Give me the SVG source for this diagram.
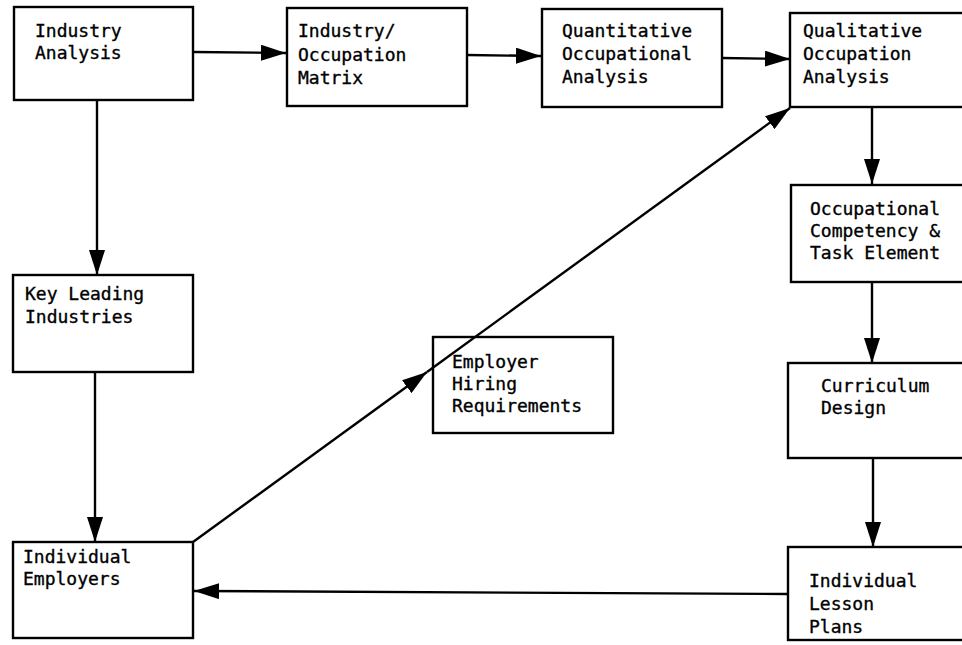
<svg xmlns="http://www.w3.org/2000/svg" width="962" height="645" viewBox="0 0 962 645">
<style>
.box{fill:none;stroke:#000;stroke-width:2.4}
.t{font-family:"DejaVu Sans Mono","Liberation Mono",monospace;font-size:18px;fill:#000;stroke:#000;stroke-width:0.35}
.c{fill:none;stroke:#000;stroke-width:2.4}
</style>
<defs>
<marker id="ah" viewBox="0 0 25 16" refX="25" refY="8" markerWidth="25" markerHeight="16" markerUnits="userSpaceOnUse" orient="auto">
<path d="M0,0 L25,8 L0,16 Z" fill="#000"/>
</marker>
</defs>
<rect width="962" height="645" fill="#fff"/>
<g id="connectors">
<line class="c" x1="194" y1="52" x2="286" y2="53" marker-end="url(#ah)"/>
<line class="c" x1="467" y1="55" x2="541" y2="56" marker-end="url(#ah)"/>
<line class="c" x1="722" y1="58" x2="790" y2="59" marker-end="url(#ah)"/>
<line class="c" x1="872" y1="107" x2="872" y2="184" marker-end="url(#ah)"/>
<line class="c" x1="872" y1="282" x2="872" y2="363" marker-end="url(#ah)"/>
<line class="c" x1="873" y1="458" x2="873" y2="547" marker-end="url(#ah)"/>
<line class="c" x1="788" y1="594" x2="194" y2="591" marker-end="url(#ah)"/>
<line class="c" x1="97" y1="100" x2="97" y2="275" marker-end="url(#ah)"/>
<line class="c" x1="95" y1="372" x2="95" y2="542" marker-end="url(#ah)"/>
<line class="c" x1="193" y1="542" x2="427" y2="372" marker-end="url(#ah)"/>
<line class="c" x1="427" y1="372" x2="790" y2="108" marker-end="url(#ah)"/>
</g>
<g id="industry-analysis">
<rect class="box" x="14" y="7" width="179" height="93"/>
<text class="t" x="35" y="37">Industry</text>
<text class="t" x="35" y="59">Analysis</text>
</g>
<g id="industry-occupation-matrix">
<rect class="box" x="287" y="8" width="180" height="98"/>
<text class="t" x="298" y="37">Industry/</text>
<text class="t" x="298" y="61">Occupation</text>
<text class="t" x="298" y="84">Matrix</text>
</g>
<g id="quantitative">
<rect class="box" x="542" y="9" width="180" height="98"/>
<text class="t" x="562" y="37">Quantitative</text>
<text class="t" x="562" y="60">Occupational</text>
<text class="t" x="562" y="83">Analysis</text>
</g>
<g id="qualitative">
<rect class="box" x="790" y="13" width="180" height="94"/>
<text class="t" x="803" y="37">Qualitative</text>
<text class="t" x="803" y="60">Occupation</text>
<text class="t" x="803" y="83">Analysis</text>
</g>
<g id="competency">
<rect class="box" x="791" y="185" width="180" height="97"/>
<text class="t" x="810" y="215">Occupational</text>
<text class="t" x="810" y="237">Competency &amp;</text>
<text class="t" x="810" y="259">Task Element</text>
</g>
<g id="curriculum">
<rect class="box" x="788" y="363" width="180" height="95"/>
<text class="t" x="821" y="392">Curriculum</text>
<text class="t" x="821" y="414">Design</text>
</g>
<g id="lesson-plans">
<rect class="box" x="788" y="547" width="180" height="93"/>
<text class="t" x="809" y="587">Individual</text>
<text class="t" x="809" y="610">Lesson</text>
<text class="t" x="809" y="633">Plans</text>
</g>
<g id="key-leading">
<rect class="box" x="13" y="275" width="180" height="97"/>
<text class="t" x="25" y="300">Key Leading</text>
<text class="t" x="25" y="323">Industries</text>
</g>
<g id="individual-employers">
<rect class="box" x="13" y="542" width="180" height="96"/>
<text class="t" x="23" y="563">Individual</text>
<text class="t" x="23" y="585">Employers</text>
</g>
<g id="employer-hiring">
<rect class="box" x="433" y="337" width="180" height="96"/>
<text class="t" x="452" y="368">Employer</text>
<text class="t" x="452" y="390">Hiring</text>
<text class="t" x="452" y="412">Requirements</text>
</g>
</svg>
